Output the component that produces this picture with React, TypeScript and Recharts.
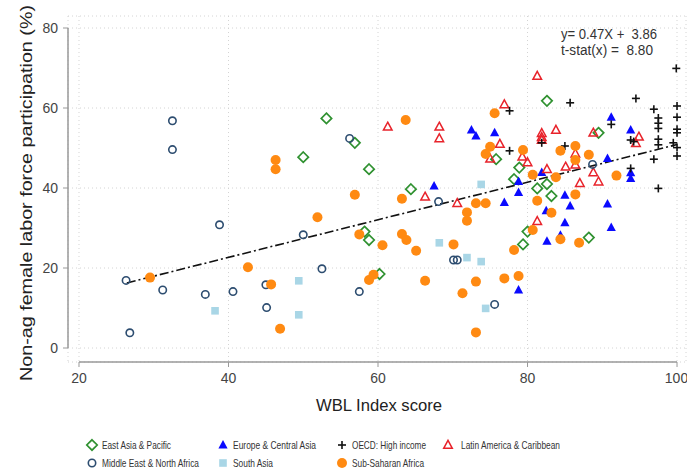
import { ScatterChart, Scatter, XAxis, YAxis, CartesianGrid, ReferenceLine, Label, Customized } from 'recharts';

const xTicks = [20, 40, 60, 80, 100];
const yTicks = [0, 20, 40, 60, 80];

const eastAsiaPacific = [
  { x: 53.1, y: 57.4 }, { x: 50.0, y: 47.7 }, { x: 56.9, y: 51.3 }, { x: 58.8, y: 44.7 },
  { x: 64.4, y: 39.7 }, { x: 58.2, y: 29.1 }, { x: 58.8, y: 27.0 }, { x: 60.2, y: 18.5 },
  { x: 82.6, y: 61.8 }, { x: 89.5, y: 53.8 }, { x: 75.8, y: 47.2 }, { x: 78.9, y: 45.1 },
  { x: 78.2, y: 42.2 }, { x: 81.3, y: 39.9 }, { x: 82.6, y: 41.0 }, { x: 83.2, y: 38.0 },
  { x: 80.0, y: 29.1 }, { x: 79.4, y: 25.9 }, { x: 88.2, y: 27.6 },
];

const europeCentralAsia = [
  { x: 67.5, y: 40.5 }, { x: 72.5, y: 54.5 }, { x: 73.1, y: 53.0 }, { x: 75.6, y: 53.8 },
  { x: 91.2, y: 57.7 }, { x: 93.8, y: 54.5 }, { x: 90.7, y: 47.4 }, { x: 93.8, y: 43.8 },
  { x: 93.8, y: 42.4 }, { x: 81.9, y: 43.9 }, { x: 78.8, y: 41.6 }, { x: 85.0, y: 38.2 },
  { x: 76.9, y: 36.4 }, { x: 78.8, y: 38.9 }, { x: 85.7, y: 35.5 }, { x: 82.5, y: 34.3 },
  { x: 85.0, y: 31.3 }, { x: 84.4, y: 28.2 }, { x: 82.6, y: 26.7 }, { x: 90.7, y: 36.0 },
  { x: 91.2, y: 30.1 }, { x: 78.8, y: 14.5 },
];

const oecdHighIncome = [
  { x: 99.9, y: 69.9 }, { x: 85.7, y: 61.3 }, { x: 94.5, y: 62.4 }, { x: 77.6, y: 59.3 },
  { x: 96.9, y: 59.7 }, { x: 97.5, y: 57.5 }, { x: 97.5, y: 56.2 }, { x: 97.5, y: 54.9 },
  { x: 97.5, y: 52.2 }, { x: 97.5, y: 50.8 }, { x: 100.0, y: 60.5 }, { x: 100.0, y: 57.7 },
  { x: 100.0, y: 54.7 }, { x: 100.0, y: 53.8 }, { x: 99.5, y: 51.3 }, { x: 100.0, y: 50.1 },
  { x: 100.0, y: 48.0 }, { x: 96.9, y: 47.2 }, { x: 97.5, y: 39.9 }, { x: 81.9, y: 51.3 },
  { x: 85.0, y: 50.5 }, { x: 77.6, y: 49.3 }, { x: 93.8, y: 44.9 }, { x: 93.8, y: 52.0 },
  { x: 94.2, y: 51.6 }, { x: 91.2, y: 55.9 },
];

const latinAmericaCaribbean = [
  { x: 61.3, y: 55.3 }, { x: 68.2, y: 55.3 }, { x: 68.2, y: 52.4 }, { x: 66.3, y: 37.8 },
  { x: 70.6, y: 36.2 }, { x: 81.3, y: 68.0 }, { x: 76.9, y: 60.9 }, { x: 76.3, y: 51.0 },
  { x: 75.0, y: 47.3 }, { x: 81.9, y: 53.7 }, { x: 81.9, y: 52.7 }, { x: 81.9, y: 52.0 },
  { x: 83.8, y: 54.5 }, { x: 88.8, y: 53.8 }, { x: 94.9, y: 52.8 }, { x: 94.5, y: 51.2 },
  { x: 79.3, y: 47.8 }, { x: 80.0, y: 46.4 }, { x: 86.4, y: 48.6 }, { x: 86.4, y: 45.8 },
  { x: 85.1, y: 45.3 }, { x: 82.6, y: 44.7 }, { x: 88.8, y: 43.9 }, { x: 89.5, y: 41.6 },
  { x: 87.0, y: 41.2 }, { x: 81.3, y: 31.7 },
];

const middleEastNorthAfrica = [
  { x: 26.3, y: 16.9 }, { x: 26.8, y: 3.8 }, { x: 31.2, y: 14.5 }, { x: 32.5, y: 56.8 },
  { x: 32.5, y: 49.6 }, { x: 36.9, y: 13.4 }, { x: 38.8, y: 30.8 }, { x: 40.6, y: 14.1 },
  { x: 45.0, y: 15.8 }, { x: 45.1, y: 10.1 }, { x: 50.0, y: 28.3 }, { x: 52.5, y: 19.8 },
  { x: 57.5, y: 14.1 }, { x: 56.2, y: 52.4 }, { x: 68.1, y: 36.6 }, { x: 70.1, y: 22.0 },
  { x: 70.6, y: 22.0 }, { x: 75.6, y: 10.9 }, { x: 88.7, y: 45.9 },
];

const southAsia = [
  { x: 38.2, y: 9.3 }, { x: 49.4, y: 16.8 }, { x: 49.4, y: 8.3 }, { x: 68.2, y: 26.3 },
  { x: 71.9, y: 22.6 }, { x: 73.8, y: 21.6 }, { x: 74.4, y: 9.9 }, { x: 73.8, y: 40.9 },
];

const subSaharanAfrica = [
  { x: 29.5, y: 17.6 }, { x: 42.6, y: 20.2 }, { x: 45.7, y: 15.9 }, { x: 46.9, y: 4.8 },
  { x: 46.3, y: 47.0 }, { x: 46.3, y: 44.7 }, { x: 51.9, y: 32.7 }, { x: 56.9, y: 38.3 },
  { x: 57.5, y: 28.4 }, { x: 60.6, y: 25.7 }, { x: 58.8, y: 17.0 }, { x: 59.4, y: 18.3 },
  { x: 63.2, y: 37.3 }, { x: 63.2, y: 28.5 }, { x: 63.8, y: 27.0 }, { x: 65.1, y: 24.3 },
  { x: 66.3, y: 16.8 }, { x: 70.1, y: 25.9 }, { x: 71.3, y: 13.7 }, { x: 63.7, y: 57.0 },
  { x: 73.1, y: 36.2 }, { x: 74.4, y: 36.2 }, { x: 71.9, y: 33.9 }, { x: 71.9, y: 31.8 },
  { x: 73.1, y: 16.6 }, { x: 73.1, y: 3.9 }, { x: 76.9, y: 17.4 }, { x: 78.8, y: 18.0 },
  { x: 78.2, y: 24.5 }, { x: 80.7, y: 29.5 }, { x: 81.3, y: 36.8 }, { x: 83.2, y: 33.8 },
  { x: 84.4, y: 27.2 }, { x: 86.9, y: 26.3 }, { x: 86.4, y: 38.4 }, { x: 75.6, y: 58.7 },
  { x: 75.0, y: 50.3 }, { x: 74.4, y: 48.5 }, { x: 79.4, y: 49.5 }, { x: 84.4, y: 49.3 },
  { x: 86.4, y: 50.5 }, { x: 88.2, y: 48.3 }, { x: 86.4, y: 47.0 }, { x: 80.7, y: 43.3 },
  { x: 83.8, y: 42.7 }, { x: 91.9, y: 43.1 },
];

// fitted line from the regression shown in the corner
const slope = 0.47;
const intercept = 3.86;
const fitFrom = 26.4;
const fitTo = 100;
const tStat = 8.8;

const GREEN = '#2f9130';
const BLUE = '#0a0aff';
const RED = '#e8232b';
const NAVY = '#2d4d70';
const LIGHTBLUE = '#a9d6e6';
const ORANGE = '#ff8a12';
const FONT = '"Liberation Sans", Arial, Helvetica, sans-serif';

const Diamond = ({ cx, cy }: any) => (
  <polygon points={`${cx},${cy - 5.2} ${cx + 5.2},${cy} ${cx},${cy + 5.2} ${cx - 5.2},${cy}`} fill="none" stroke={GREEN} strokeWidth={1.7} />
);
const FilledTriangle = ({ cx, cy }: any) => (
  <polygon points={`${cx},${cy - 5} ${cx + 4.6},${cy + 3.5} ${cx - 4.6},${cy + 3.5}`} fill={BLUE} />
);
const Plus = ({ cx, cy }: any) => (
  <g stroke="#111" strokeWidth={1.6}>
    <line x1={cx - 4} y1={cy} x2={cx + 4} y2={cy} />
    <line x1={cx} y1={cy - 4} x2={cx} y2={cy + 4} />
  </g>
);
const HollowTriangle = ({ cx, cy }: any) => (
  <polygon points={`${cx},${cy - 4.6} ${cx + 4.3},${cy + 3.3} ${cx - 4.3},${cy + 3.3}`} fill="none" stroke={RED} strokeWidth={1.5} />
);
const HollowCircle = ({ cx, cy }: any) => (
  <circle cx={cx} cy={cy} r={3.7} fill="none" stroke={NAVY} strokeWidth={1.6} />
);
const Square = ({ cx, cy }: any) => (
  <rect x={cx - 3.8} y={cy - 3.8} width={7.6} height={7.6} fill={LIGHTBLUE} />
);
const Dot = ({ cx, cy }: any) => <circle cx={cx} cy={cy} r={5} fill={ORANGE} />;

const legendItems = [
  { name: 'East Asia & Pacific', Shape: Diamond },
  { name: 'Europe & Central Asia', Shape: FilledTriangle },
  { name: 'OECD: High income', Shape: Plus },
  { name: 'Latin America & Caribbean', Shape: HollowTriangle },
  { name: 'Middle East & North Africa', Shape: HollowCircle },
  { name: 'South Asia', Shape: Square },
  { name: 'Sub-Saharan Africa', Shape: Dot },
];
// legend layout (the original uses a narrow face, so squeeze the labels)
const legendCols = [92, 223, 342, 448];
const legendRows = [445, 463];
const legendTextWidths = [69, 83, 74, 99, 97, 40, 72];

const Annotation = () => (
  <g fontFamily={FONT} fontSize={14} fill="#333">
    <text x={561} y={39} textLength={96} lengthAdjust="spacingAndGlyphs" style={{ whiteSpace: 'pre' }}>
      {`y= ${slope.toFixed(2)}X +  ${intercept.toFixed(2)}`}
    </text>
    <text x={561} y={55} textLength={92} lengthAdjust="spacingAndGlyphs" style={{ whiteSpace: 'pre' }}>
      {`t-stat(x) =  ${tStat.toFixed(2)}`}
    </text>
  </g>
);

const XTitle = () => (
  <text x={379} y={411} textAnchor="middle" fontFamily={FONT} fontSize={17} fill="#222" textLength={126} lengthAdjust="spacingAndGlyphs">
    WBL Index score
  </text>
);
const YTitle = () => (
  <text x={0} y={0} transform="translate(31.5 193) rotate(-90)" textAnchor="middle" fontFamily={FONT} fontSize={17} fill="#222" textLength={376} lengthAdjust="spacingAndGlyphs">
    Non-ag female labor force participation (%)
  </text>
);

const tickStyle = { fontSize: 14, fill: '#444', fontFamily: FONT };

export default function App() {
  return (
    <div style={{ position: 'absolute', left: 0, top: 0, width: 687, height: 474, background: '#fff', fontFamily: FONT }}>
      <ScatterChart width={687} height={474} margin={{ top: 16, right: 1, bottom: 62, left: 0 }}>
        <CartesianGrid stroke="#d4d4d4" strokeDasharray="1 3" />
        <XAxis
          type="number"
          dataKey="x"
          domain={[18.53, 101.2]}
          allowDataOverflow
          ticks={xTicks}
          height={50}
          axisLine={false}
          tickLine={{ stroke: '#999' }}
          tickSize={5}
          tickMargin={6}
          tick={tickStyle}
        >
          <Label content={<XTitle />} />
        </XAxis>
        <YAxis
          type="number"
          dataKey="y"
          domain={[-3.5, 83]}
          allowDataOverflow
          ticks={yTicks}
          width={68}
          axisLine={false}
          tickLine={{ stroke: '#999' }}
          tickSize={5}
          tickMargin={5}
          tick={tickStyle}
        >
          <Label content={<YTitle />} />
        </YAxis>
        <ReferenceLine segment={[{ x: 20, y: -3.5 }, { x: 100, y: -3.5 }]} stroke="#999" strokeWidth={1.5} ifOverflow="visible" />
        <ReferenceLine segment={[{ x: 18.53, y: 0 }, { x: 18.53, y: 80 }]} stroke="#999" strokeWidth={1.5} ifOverflow="visible" />
        <ReferenceLine
          segment={[
            { x: fitFrom, y: intercept + slope * fitFrom },
            { x: fitTo, y: intercept + slope * fitTo },
          ]}
          stroke="#111"
          strokeWidth={1.6}
          strokeDasharray="9 3 2 3"
          ifOverflow="visible"
        />
        <Scatter name="East Asia & Pacific" data={eastAsiaPacific} shape={Diamond} isAnimationActive={false} />
        <Scatter name="Europe & Central Asia" data={europeCentralAsia} shape={FilledTriangle} isAnimationActive={false} />
        <Scatter name="Latin America & Caribbean" data={latinAmericaCaribbean} shape={HollowTriangle} isAnimationActive={false} />
        <Scatter name="Middle East & North Africa" data={middleEastNorthAfrica} shape={HollowCircle} isAnimationActive={false} />
        <Scatter name="OECD: High income" data={oecdHighIncome} shape={Plus} isAnimationActive={false} />
        <Scatter name="South Asia" data={southAsia} shape={Square} isAnimationActive={false} />
        <Scatter name="Sub-Saharan Africa" data={subSaharanAfrica} shape={Dot} isAnimationActive={false} />
        <Customized component={Annotation} />
      </ScatterChart>
      <svg style={{ position: 'absolute', left: 0, top: 425 }} width={687} height={49}>
        {legendItems.map((item, i) => {
          const col = i < 4 ? i : i - 4;
          const row = i < 4 ? 0 : 1;
          const cx = legendCols[col];
          const cy = legendRows[row] - 425;
          const textLeft = cx + (col === 3 ? 13 : 10);
          return (
            <g key={item.name}>
              <item.Shape cx={cx} cy={cy} />
              <text
                x={textLeft}
                y={cy + 4.2}
                fontFamily={FONT}
                fontSize={11.5}
                fill="#333"
                textLength={legendTextWidths[i]}
                lengthAdjust="spacingAndGlyphs"
              >
                {item.name}
              </text>
            </g>
          );
        })}
      </svg>
    </div>
  );
}
